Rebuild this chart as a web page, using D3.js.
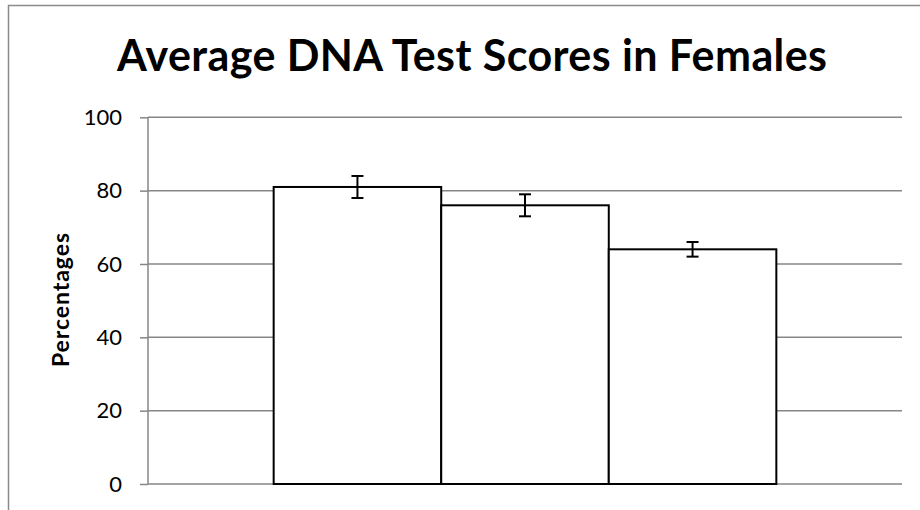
<!DOCTYPE html>
<html>
<head>
<meta charset="utf-8">
<script src="https://cdn.jsdelivr.net/npm/d3@7"></script>
<style>
  html, body { margin: 0; padding: 0; background: #fff; }
  svg { display: block; }
</style>
</head>
<body>
<svg id="chart" width="920" height="510"></svg>
<script>
const title = "Average DNA Test Scores in Females";
const yTitle = "Percentages";
const series = ["Series 1", "Series 2", "Series 3"];
const values = [81, 76, 64];
const errors = [3, 3, 2];
const yTicks = [0, 20, 40, 60, 80, 100];

const svg = d3.select("#chart");
const font = "Lato, 'Open Sans', sans-serif";
const grid = "#868686";

// outer chart border
svg.append("rect")
  .attr("x", 8.5).attr("y", 5.5).attr("width", 930).attr("height", 530)
  .attr("fill", "none").attr("stroke", "#8a8a8a").attr("stroke-width", 1.5);

const plot = { left: 148, right: 902, top: 117.3, bottom: 484 };

const y = d3.scaleLinear().domain([0, 100]).range([plot.bottom, plot.top]);
const x = d3.scaleBand().domain(series).range([plot.left, plot.right])
  .paddingInner(0).paddingOuter(0.75);

// gridlines
svg.append("g").selectAll("line").data(yTicks).join("line")
  .attr("x1", plot.left).attr("x2", plot.right)
  .attr("y1", d => y(d)).attr("y2", d => y(d))
  .attr("stroke", grid).attr("stroke-width", 1.5);

// y axis
const yAxis = d3.axisLeft(y).tickValues(yTicks).tickSize(8).tickPadding(18);
const gy = svg.append("g").attr("transform", `translate(${plot.left},0)`).call(yAxis);
gy.select(".domain").attr("stroke", grid).attr("stroke-width", 1.5)
  .attr("d", `M0,${plot.top}V${plot.bottom}`);
gy.selectAll(".tick line").attr("stroke", grid).attr("stroke-width", 1.5);
gy.selectAll(".tick text").attr("font-family", font).attr("font-size", 22)
  .attr("fill", "#000");

// bars
svg.append("g").selectAll("rect").data(series).join("rect")
  .attr("x", d => x(d)).attr("width", x.bandwidth())
  .attr("y", (d, i) => y(values[i]))
  .attr("height", (d, i) => y(0) - y(values[i]))
  .attr("fill", "#fff").attr("stroke", "#000").attr("stroke-width", 2);

// error bars
const eb = svg.append("g").selectAll("g").data(series).join("g");
eb.append("line")
  .attr("x1", d => x(d) + x.bandwidth() / 2).attr("x2", d => x(d) + x.bandwidth() / 2)
  .attr("y1", (d, i) => y(values[i] + errors[i])).attr("y2", (d, i) => y(values[i] - errors[i]))
  .attr("stroke", "#000").attr("stroke-width", 2);
eb.append("line")
  .attr("x1", d => x(d) + x.bandwidth() / 2 - 6).attr("x2", d => x(d) + x.bandwidth() / 2 + 6)
  .attr("y1", (d, i) => y(values[i] + errors[i])).attr("y2", (d, i) => y(values[i] + errors[i]))
  .attr("stroke", "#000").attr("stroke-width", 2);
eb.append("line")
  .attr("x1", d => x(d) + x.bandwidth() / 2 - 6).attr("x2", d => x(d) + x.bandwidth() / 2 + 6)
  .attr("y1", (d, i) => y(values[i] - errors[i])).attr("y2", (d, i) => y(values[i] - errors[i]))
  .attr("stroke", "#000").attr("stroke-width", 2);

// title
svg.append("text")
  .attr("x", 472).attr("y", 71)
  .attr("text-anchor", "middle")
  .attr("font-family", font).attr("font-weight", "bold").attr("font-size", 43)
  .attr("fill", "#000")
  .attr("textLength", 710).attr("lengthAdjust", "spacing")
  .text(title);

// y axis title
svg.append("text")
  .attr("transform", "translate(69,300) rotate(-90)")
  .attr("text-anchor", "middle")
  .attr("font-family", font).attr("font-weight", "bold").attr("font-size", 23)
  .attr("fill", "#000")
  .attr("textLength", 134).attr("lengthAdjust", "spacing")
  .text(yTitle);
</script>
</body>
</html>
